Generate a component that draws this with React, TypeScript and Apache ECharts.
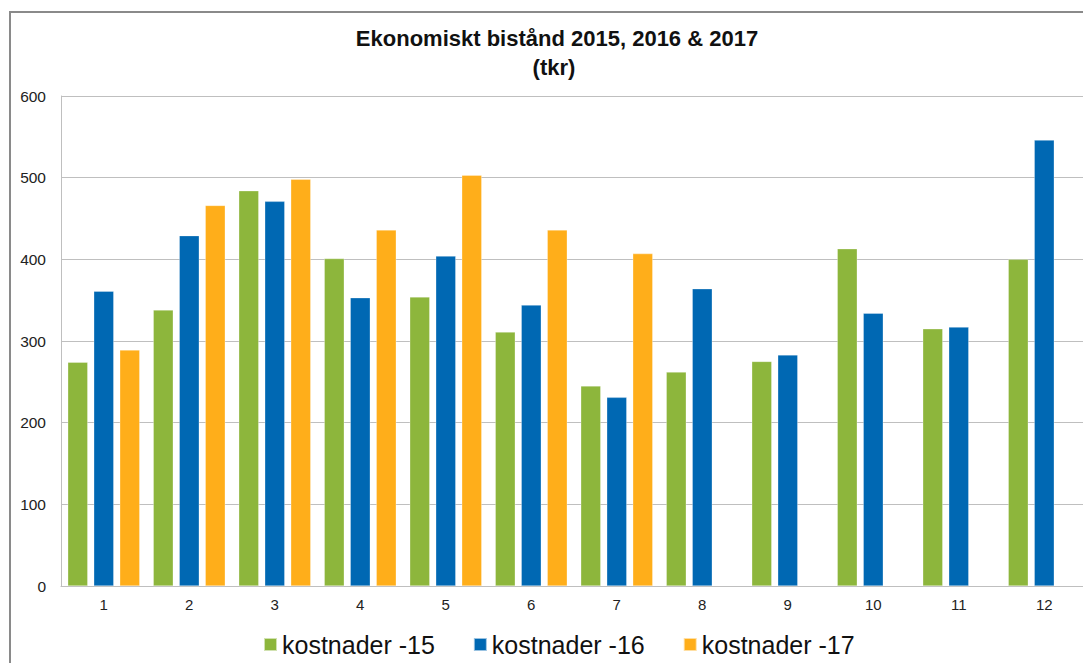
import React, { useEffect, useRef } from "react";
import * as echarts from "echarts";

const categories = ["1", "2", "3", "4", "5", "6", "7", "8", "9", "10", "11", "12"];
const kostnader15 = [274, 338, 484, 401, 354, 311, 245, 262, 275, 413, 315, 400];
const kostnader16 = [361, 429, 471, 353, 404, 344, 231, 364, 283, 334, 317, 546];
const kostnader17: (number | null)[] = [289, 466, 498, 436, 503, 436, 407, null, null, null, null, null];
const seriesNames = ["kostnader -15", "kostnader -16", "kostnader -17"];
const titleLines = ["Ekonomiskt bistånd 2015, 2016 & 2017", "(tkr)"];

const FONT = "'Liberation Sans', Arial, sans-serif";

export default function App() {
  const ref = useRef<HTMLDivElement>(null);
  useEffect(() => {
    if (!ref.current) return;
    const chart = echarts.init(ref.current, undefined, { renderer: "svg" });
    const colors = ["#8DB63C", "#0068B3", "#FFAE1A"];
    const data = [kostnader15, kostnader16, kostnader17];
    chart.setOption({
      animation: false,
      backgroundColor: "#fff",
      color: colors,
      graphic: [
        {
          type: "rect",
          shape: { x: 2, y: 4, width: 3000, height: 3000 },
          style: { fill: "none", stroke: "#8a8a8a", lineWidth: 2 },
          silent: true,
        },
        {
          type: "text",
          x: 549,
          y: 30,
          style: {
            text: titleLines[0],
            align: "center",
            verticalAlign: "middle",
            fontSize: 22,
            fontWeight: "bold",
            fontFamily: FONT,
            fill: "#111",
          },
        },
        {
          type: "text",
          x: 546,
          y: 59,
          style: {
            text: titleLines[1],
            align: "center",
            verticalAlign: "middle",
            fontSize: 22,
            fontWeight: "bold",
            fontFamily: FONT,
            fill: "#111",
          },
        },
      ],
      grid: { left: 53, top: 88, right: 4, bottom: 77, containLabel: false },
      legend: {
        left: 250,
        top: 619,
        icon: "rect",
        itemWidth: 13,
        itemHeight: 13,
        itemGap: 38,
        textStyle: { fontSize: 25, fontFamily: FONT, color: "#111" },
        data: seriesNames,
      },
      xAxis: {
        type: "category",
        data: categories,
        axisLine: { show: true, lineStyle: { color: "#bfbfbf", width: 1 } },
        axisTick: { show: false },
        axisLabel: { fontSize: 15, fontFamily: FONT, color: "#222", margin: 11 },
        splitLine: { show: false },
      },
      yAxis: {
        type: "value",
        min: 0,
        max: 600,
        interval: 100,
        axisLine: { show: true, lineStyle: { color: "#bfbfbf", width: 1 } },
        axisTick: { show: false },
        axisLabel: { fontSize: 15.5, fontFamily: FONT, color: "#222", margin: 15 },
        splitLine: { show: true, lineStyle: { color: "#bfbfbf", width: 1 } },
      },
      series: seriesNames.map((name, i) => ({
        name,
        type: "bar",
        data: data[i],
        barWidth: 20,
        barGap: "30%",
        itemStyle: { color: colors[i], borderColor: "rgba(255,255,255,0.6)", borderWidth: 0.5 },
      })),
    });
    return () => chart.dispose();
  }, []);
  return <div ref={ref} style={{ width: 1083, height: 655 }} />;
}
